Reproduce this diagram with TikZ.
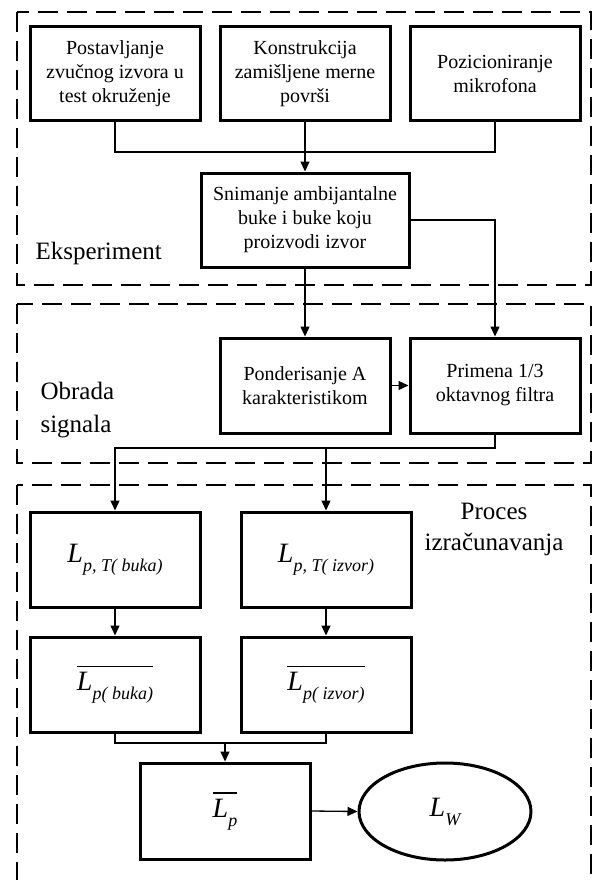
\documentclass[tikz,border=0pt]{standalone}
\usepackage{fontspec}
\setmainfont{Liberation Serif}
\usetikzlibrary{shapes.geometric,arrows.meta}
% L with an italic subscript, and the same with a bar over it
\newcommand{\Lsub}[1]{{\fontsize{28}{30}\selectfont\itshape L}\raisebox{-9pt}{\fontsize{18}{20}\selectfont\itshape #1}}
\newcommand{\Lbar}[1]{\vbox{\hrule height 1.6pt\kern 5pt\hbox{\Lsub{#1}}}}
\begin{document}
\begin{tikzpicture}[
            x=1pt,y=-1pt,
            blok/.style={draw,line width=3pt,align=center,inner sep=2pt,
                font=\fontsize{20}{24}\selectfont},
            veza/.style={line width=1.3pt},
            okvir/.style={line width=2.5pt,dash pattern=on 20pt off 9pt},
            oznaka/.style={font=\fontsize{25}{33}\selectfont},
            >={Triangle[length=10pt,width=9pt]}
        ]
            \useasboundingbox (0,0) rectangle (593,880);
            \clip (0,0) rectangle (593,880);

            % dashed frames of the three stages
            \draw [okvir] (17,12) rectangle (591,285);
            \draw [okvir] (17,304) rectangle (591,463);
            \draw [okvir] (17,485) rectangle (591,900);

            \node [oznaka,anchor=west] (eksp) at (32,253) {Eksperiment};
            \node [oznaka,anchor=west,align=left] (obrada) at (37,410) {Obrada\\signala};
            \node [oznaka,align=center,font=\fontsize{25}{31}\selectfont] (proces) at (494,529)
                {Proces\\izračunavanja};

            % experiment
            \node [blok,minimum width=170,minimum height=94] (postav) at (115,74)
                {Postavljanje\\zvučnog izvora u\\test okruženje};
            \node [blok,minimum width=170,minimum height=94] (konstr) at (305,74)
                {Konstrukcija\\zamišljene merne\\površi};
            \node [blok,minimum width=170,minimum height=94] (pozic) at (495,74)
                {Pozicioniranje\\mikrofona};
            \node [blok,minimum width=208,minimum height=94] (snim) at (305,220)
                {Snimanje ambijantalne\\buke i buke koju\\proizvodi izvor};

            % signal processing
            \node [blok,minimum width=170,minimum height=95] (ponder) at (305,385.5)
                {Ponderisanje A\\karakteristikom};
            \node [blok,minimum width=170,minimum height=95] (primena) at (495,385.5)
                {Primena 1/3\\oktavnog filtra};

            % calculation
            \node [blok,minimum width=170,minimum height=95] (lbuka) at (115,559.5)
                {\Lsub{p, T( buka)}};
            \node [blok,minimum width=170,minimum height=95] (lizvor) at (326,559.5)
                {\Lsub{p, T( izvor)}};
            \node [blok,minimum width=170,minimum height=95] (sbuka) at (115,684.5)
                {\Lbar{p( buka)}};
            \node [blok,minimum width=170,minimum height=95] (sizvor) at (326,684.5)
                {\Lbar{p( izvor)}};
            \node [blok,minimum width=170,minimum height=96] (lp) at (225,811)
                {\Lbar{p}};
            \node [blok,ellipse,minimum width=172,minimum height=97] (lw) at (445,811.5)
                {\Lsub{W}};

            \coordinate (j1) at (305,152);
            \coordinate (j2) at (326,448);
            \coordinate (j3) at (225,743);

            \draw [veza] (postav.south) |- (j1) -| (pozic.south);
            \draw [veza,->] (konstr.south) -- (snim.north);
            \draw [veza,->] (snim.east) -| (primena.north);
            \draw [veza,->] (snim.south) -- (ponder.north);
            \draw [veza,->] (ponder.east) -- (primena.west);
            \draw [veza] (primena.south) |- (j2);
            \draw [veza,->] (j2) -| (lbuka.north);
            \draw [veza,->] (j2) -- (lizvor.north);
            \draw [veza,->] (lbuka.south) -- (sbuka.north);
            \draw [veza,->] (lizvor.south) -- (sizvor.north);
            \draw [veza] (sbuka.south) |- (j3) -| (sizvor.south);
            \draw [veza,->] (j3) -- (lp.north);
            \draw [veza,->] (lp.east) -- (lw.west);
        \end{tikzpicture}
\end{document}
